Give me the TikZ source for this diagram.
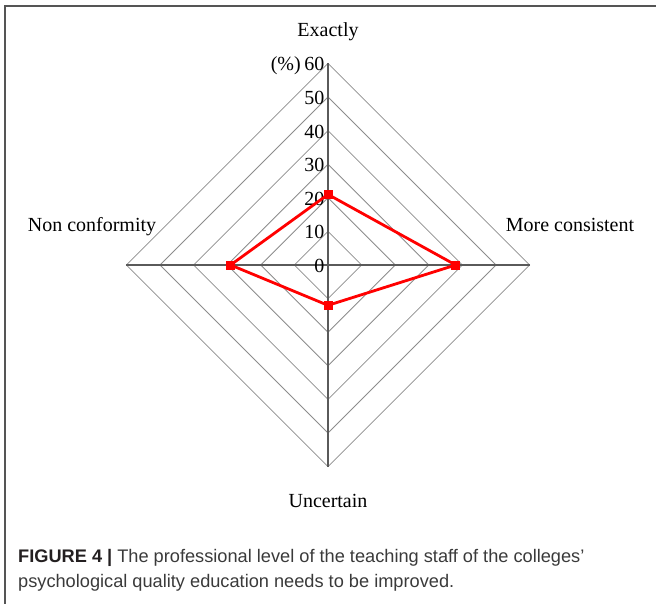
\documentclass[tikz,border=0pt]{standalone}
\usepackage{fontspec}
\usetikzlibrary{calc}
\setmainfont{Liberation Serif}
\newfontfamily\capfont{Liberation Sans}
\definecolor{gridgray}{HTML}{8C8C8C}
\definecolor{axisgray}{HTML}{5A5A5A}
\definecolor{framegray}{HTML}{555555}
\definecolor{captext}{HTML}{3A3A3A}
\definecolor{capbold}{HTML}{231F20}
\definecolor{dred}{HTML}{FF0000}
\begin{document}
\begin{tikzpicture}[x=1pt,y=-1pt,
  gridline/.style={draw=gridgray, line width=0.8pt},
  axisline/.style={draw=axisgray, line width=1.1pt},
  frameline/.style={draw=framegray, line width=1.3pt},
  seriesline/.style={draw=dred, line width=2.8pt, line join=round},
  marker/.style={rectangle, fill=dred, minimum size=9pt, inner sep=0pt},
  catlabel/.style={font=\fontsize{20}{24}\selectfont, inner sep=0pt, anchor=base},
  ticklabel/.style={font=\fontsize{20}{24}\selectfont, inner sep=0pt, anchor=east},
  captionline/.style={font=\capfont\fontsize{18.2}{22}\selectfont, text=captext, inner sep=0pt, anchor=base west}
]
\useasboundingbox (0,0) rectangle (656,604);
% frame
\draw[frameline] (5,604) -- (5,6) -- (656,6);
\def\u{3.36}
\coordinate (C) at (328,265);
% grid diamonds
\foreach \k in {1,...,6}{
  \pgfmathsetmacro{\r}{10*\k*\u}
  \draw[gridline] ($(C)+(0,-\r)$) -- ($(C)+(\r,0)$) -- ($(C)+(0,\r)$) -- ($(C)+(-\r,0)$) -- cycle;
}
% axes
\coordinate (aT) at ($(C)+(0,-60*\u)$);
\coordinate (aB) at ($(C)+(0,60*\u)$);
\coordinate (aL) at ($(C)+(-60*\u,0)$);
\coordinate (aR) at ($(C)+(60*\u,0)$);
\draw[axisline] (aT) -- (aB);
\draw[axisline] (aL) -- (aR);
% tick labels
\foreach \v in {0,10,...,60}{
  \node[ticklabel] (t\v) at ($(C)+(-3.5,-\v*\u+1)$) {\v};
}
\node[catlabel, anchor=base east] (pct) at (301,70.5) {(\%)};
% category labels
\node[catlabel] (lE) at (328,36.7) {Exactly};
\node[catlabel] (lN) at (92,232) {Non conformity};
\node[catlabel] (lM) at (570,232) {More consistent};
\node[catlabel] (lU) at (328,507.3) {Uncertain};
% data
\node[marker] (mE) at ($(C)+(0,-21*\u)$) {};
\node[marker] (mM) at ($(C)+(38*\u,0)$) {};
\node[marker] (mU) at ($(C)+(0,12*\u)$) {};
\node[marker] (mN) at ($(C)+(-29*\u,0)$) {};
\draw[seriesline] (mE.center) -- (mM.center) -- (mU.center) -- (mN.center) -- cycle;
\node[marker] at (mE) {};
\node[marker] at (mM) {};
\node[marker] at (mU) {};
\node[marker] at (mN) {};
% caption
\node[captionline] (cap1) at (18,562) {{\color{capbold}\bfseries FIGURE 4 |} The professional level of the teaching staff of the colleges’};
\node[captionline] (cap2) at (18,587) {psychological quality education needs to be improved.};
\end{tikzpicture}
\end{document}
